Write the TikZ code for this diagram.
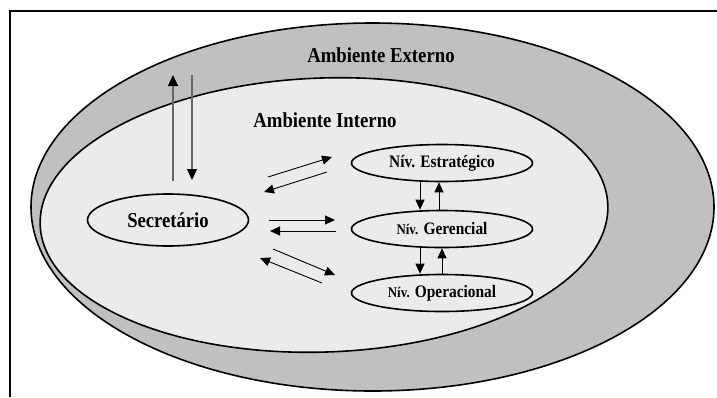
\documentclass[tikz,border=0pt]{standalone}
\usepackage{fontspec}
\setmainfont[FakeStretch=0.88]{Liberation Serif}
\usetikzlibrary{shapes.geometric,arrows.meta}
\definecolor{ringgray}{HTML}{C0C0C0}
\definecolor{innergray}{HTML}{EBEBEB}
\tikzset{
  arr/.style={-{Triangle[length=10pt,width=9pt]}, line width=0.9pt, black},
  garr/.style={-{Triangle[length=11pt,width=10pt,color=black]}, line width=1.1pt, draw=black!60},
  lvl/.style={ellipse, draw, line width=1.6pt, fill=innergray, minimum width=181pt, minimum height=37pt, inner sep=0pt, font=\bfseries\fontsize{17.5}{19}\selectfont},
  big/.style={font=\bfseries\fontsize{21.3}{23}\selectfont, inner sep=0pt}
}
\newcommand{\smallniv}{\fontsize{14.7}{16}\selectfont Nív.}
\begin{document}
\begin{tikzpicture}[x=1pt,y=-1pt]
\useasboundingbox (0,0) rectangle (717,397);
% frame (top and left edges)
\coordinate (fA) at (717,11);
\coordinate (fB) at (10,11);
\coordinate (fC) at (10,397);
\draw[line width=1.5pt] (fA) -- (fB) -- (fC);
% outer environment
\draw[line width=1.6pt, fill=ringgray] (372.5,207) ellipse [x radius=341.5pt, y radius=184pt];
% inner environment
\draw[line width=1.6pt, fill=innergray, rotate around={2:(324,215)}] (324,215) ellipse [x radius=284pt, y radius=137pt];
\node[big] (ext) at (381,55) {Ambiente Externo};
\node[big] (int) at (325,120) {Ambiente Interno};
% ellipses
\node[ellipse, draw, line width=1.6pt, fill=innergray, minimum width=161pt, minimum height=52pt, inner sep=0pt, font=\bfseries\fontsize{21.2}{23}\selectfont] (sec) at (168,220) {Secretário};
\node[lvl] (est) at (442,163) {Nív. Estratégico};
\node[lvl] (ger) at (442,229) {{\smallniv} Gerencial};
\node[lvl] (ope) at (442,293) {{\smallniv} Operacional};
% vertical arrows Secretario <-> external
\coordinate (u1) at (173,181); \coordinate (u2) at (173,75);
\coordinate (d1) at (192,75);  \coordinate (d2) at (192,180);
\draw[garr] (u1) -- (u2);
\draw[garr] (d1) -- (d2);
% Secretario <-> levels
\coordinate (a1) at (268,177); \coordinate (a2) at (332,157);
\coordinate (b1) at (327,172); \coordinate (b2) at (264,192);
\coordinate (c1) at (269,220); \coordinate (c2) at (335,220);
\coordinate (e1) at (336,231); \coordinate (e2) at (270,231);
\coordinate (g1) at (273,249); \coordinate (g2) at (335,275);
\coordinate (h1) at (322,283); \coordinate (h2) at (260,258);
\draw[arr] (a1) -- (a2);
\draw[arr] (b1) -- (b2);
\draw[arr] (c1) -- (c2);
\draw[arr] (e1) -- (e2);
\draw[arr] (g1) -- (g2);
\draw[arr] (h1) -- (h2);
% between levels
\coordinate (xa) at (420,0);
\coordinate (xb) at (439,0);
\coordinate (xc) at (442,0);
\draw[arr] (est.south -| xa) -- (ger.north -| xa);
\draw[arr] (ger.north -| xb) -- (est.south -| xb);
\draw[arr] (ger.south -| xa) -- (ope.north -| xa);
\draw[arr] (ope.north -| xc) -- (ger.south -| xc);
\end{tikzpicture}
\end{document}
